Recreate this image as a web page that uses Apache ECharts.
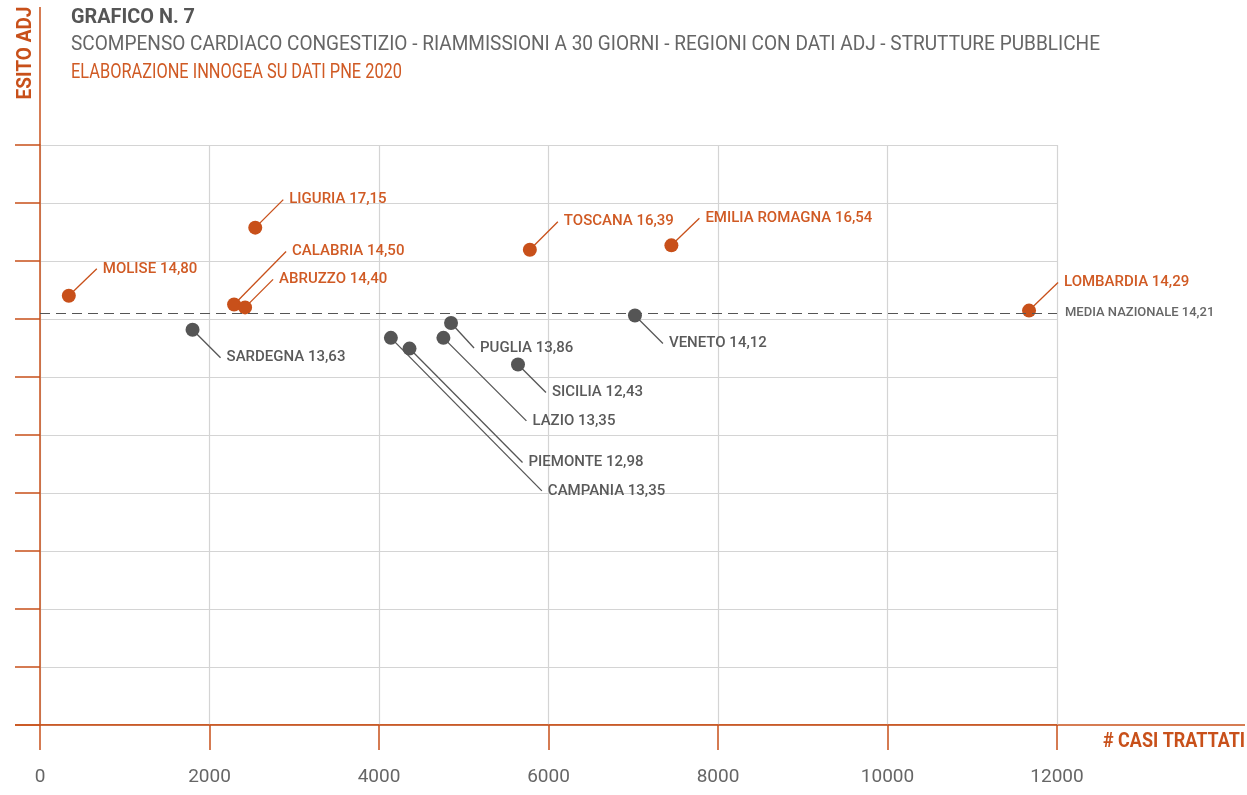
<!DOCTYPE html>
<html lang="it">
<head>
<meta charset="UTF-8">
<title>Grafico N. 7 - Scompenso cardiaco congestizio</title>
<script src="https://cdn.jsdelivr.net/npm/echarts@6.0.0/dist/echarts.min.js"></script>
<style>
  body { margin: 0; padding: 0; background: #fff; }
  #main { width: 1247px; height: 795px; }
</style>
</head>
<body>
<div id="main"></div>
<script>
// dati
const regioni = ['MOLISE', 'SARDEGNA', 'CALABRIA', 'ABRUZZO', 'LIGURIA', 'CAMPANIA', 'PIEMONTE',
                 'LAZIO', 'PUGLIA', 'SICILIA', 'TOSCANA', 'VENETO', 'EMILIA ROMAGNA', 'LOMBARDIA'];
const casiTrattati = [340, 1800, 2290, 2420, 2540, 4140, 4360, 4760, 4850, 5640, 5780, 7020, 7450, 11670];
const esitoAdj = [14.80, 13.63, 14.50, 14.40, 17.15, 13.35, 12.98, 13.35, 13.86, 12.43, 16.39, 14.12, 16.54, 14.29];
const mediaNazionale = 14.21;
const xMin = 0, xMax = 12000, xStep = 2000;
const yMin = 0, yMax = 20, yStep = 2;

// posizione delle etichette rispetto al punto (px)
const labelOffsets = [[34, -27], [34, 28], [58, -53], [34, -28], [34, -28], [157, 153], [119, 114],
                      [89, 83], [29, 25], [34, 28], [34, -28], [34, 28], [34, -27], [35, -28]];

const ORANGE = '#C8501A';
const ORANGE_TXT = '#D05A24';
const GRAY = '#555555';
const GRID = { left: 40, top: 145, right: 190, bottom: 70 };

const fmt = v => v.toFixed(2).replace('.', ',');
const colorOf = v => v > mediaNazionale ? ORANGE : GRAY;

// testo "condensato": scala orizzontale per rientrare nella larghezza originale
const ctx = document.createElement('canvas').getContext('2d');
function fitScale(text, font, width) {
    ctx.font = font;
    return width / ctx.measureText(text).width;
}

function headerText(text, font, fill, x, y, width, align) {
    return {
        type: 'text', x: x, y: y, scaleX: fitScale(text, font, width), silent: true,
        style: { text: text, font: font, fill: fill, align: align || 'left', verticalAlign: 'middle' }
    };
}

const points = casiTrattati.map((x, i) => [x, esitoAdj[i]]);

const chart = echarts.init(document.getElementById('main'));
const H = 795;
const x0 = GRID.left, yBottom = H - GRID.bottom;

const yTitle = headerText('ESITO ADJ', 'bold 21px Roboto', ORANGE, 26, 53, 93, 'center');
yTitle.rotation = Math.PI / 2;

const option = {
    animation: false,
    grid: GRID,
    xAxis: {
        type: 'value', min: xMin, max: xMax, interval: xStep,
        axisLine: { show: true, lineStyle: { color: ORANGE, width: 1.5 } },
        axisTick: { show: true, length: 25, lineStyle: { color: ORANGE, width: 1.5 } },
        axisLabel: { margin: 43, color: '#666', fontFamily: 'Roboto', fontSize: 19, formatter: v => String(v) },
        splitLine: { show: true, lineStyle: { color: '#d4d4d4', width: 1.2 } }
    },
    yAxis: {
        type: 'value', min: yMin, max: yMax, interval: yStep,
        axisLine: { show: true, lineStyle: { color: ORANGE, width: 1.5 } },
        axisTick: { show: true, length: 25, lineStyle: { color: ORANGE, width: 1.5 } },
        axisLabel: { show: false },
        splitLine: { show: true, lineStyle: { color: '#d4d4d4', width: 1.2 } }
    },
    graphic: {
        elements: [
            // prolungamenti degli assi
            { type: 'line', silent: true, shape: { x1: x0, y1: 7, x2: x0, y2: GRID.top },
              style: { stroke: ORANGE, lineWidth: 1.5 } },
            { type: 'line', silent: true, shape: { x1: 15, y1: yBottom, x2: 1245, y2: yBottom },
              style: { stroke: ORANGE, lineWidth: 1.5 } },
            headerText('GRAFICO N. 7', 'bold 20px Roboto', '#555', 71, 18, 124),
            headerText('SCOMPENSO CARDIACO CONGESTIZIO - RIAMMISSIONI A 30 GIORNI - REGIONI CON DATI ADJ - STRUTTURE PUBBLICHE',
                       '21px Roboto', '#666', 71, 45, 1029),
            headerText('ELABORAZIONE INNOGEA SU DATI PNE 2020', '21px Roboto', ORANGE_TXT, 71, 73, 331),
            yTitle,
            headerText('# CASI TRATTATI', 'bold 21px Roboto', ORANGE, 1245, 742, 142, 'right')
        ]
    },
    series: [
        {
            // linee guida ed etichette delle regioni
            type: 'custom',
            data: points,
            renderItem: function (params, api) {
                const i = params.dataIndex;
                const v = api.value(1);
                const p = api.coord([api.value(0), v]);
                const off = labelOffsets[i];
                const c = colorOf(v);
                return {
                    type: 'group',
                    children: [
                        { type: 'line',
                          shape: { x1: p[0], y1: p[1], x2: p[0] + off[0] - 6, y2: p[1] + off[1] },
                          style: { stroke: c, lineWidth: 1.3 } },
                        { type: 'text', x: p[0] + off[0], y: p[1] + off[1],
                          style: { text: regioni[i] + ' ' + fmt(v), font: '500 15px Roboto',
                                   fill: v > mediaNazionale ? ORANGE_TXT : '#5a5a5a', verticalAlign: 'middle' } }
                    ]
                };
            },
            markLine: {
                silent: true,
                symbol: 'none',
                lineStyle: { color: GRAY, type: [10, 6], width: 1.2 },
                label: {
                    position: 'end', distance: 8, color: '#666', fontFamily: 'Roboto', fontSize: 13,
                    fontWeight: 500, formatter: 'MEDIA NAZIONALE ' + fmt(mediaNazionale)
                },
                data: [{ yAxis: mediaNazionale }]
            }
        },
        {
            type: 'scatter',
            data: points,
            symbolSize: 14,
            itemStyle: { opacity: 1, color: p => colorOf(p.value[1]) }
        }
    ]
};

chart.setOption(option);
</script>
</body>
</html>
